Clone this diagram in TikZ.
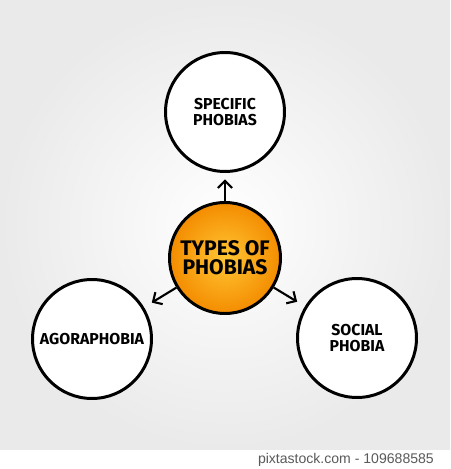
\documentclass[tikz,border=0pt]{standalone}
\usepackage{fontspec}
\setsansfont{Fira Sans}
\newfontfamily\creditfont{Liberation Sans}
\usetikzlibrary{arrows.meta}
\definecolor{phobiaorange}{RGB}{244,140,0}
\definecolor{phobiayellow}{RGB}{255,198,52}
\definecolor{bggrey}{RGB}{234,234,234}
\definecolor{creditgrey}{RGB}{90,90,90}
\tikzstyle{topic} = [circle, draw=black, line width=1.7pt, fill=white, minimum size=2.38cm, align=center, font=\sffamily\bfseries\small]
\tikzstyle{hub} = [circle, draw=black, line width=1.7pt, inner color=phobiayellow, outer color=phobiaorange, minimum size=2.14cm, align=center, font=\sffamily\bfseries\large]
\tikzstyle{arrow} = [line width=1.2pt, -{Straight Barb[length=4pt,width=8pt,line width=1.2pt]}, shorten >=0.18cm]

\begin{document}
\begin{tikzpicture}[x=0.02cm, y=-0.02cm]
      \useasboundingbox (0,0) rectangle (450,469);
      % background
      \shade[inner color=white, outer color=bggrey] (0,0) rectangle (450,450);
      \fill[white] (0,450) rectangle (450,469);
      \node[anchor=east, font=\creditfont\fontsize{8}{9}\selectfont, text=creditgrey] (credit) at (440,460) {pixtastock.com - 109688585};
      % circles
      \node[hub] (types) at (225,258) {TYPES OF\\[-3pt]PHOBIAS};
      \node[topic] (specific) at (225,112) {SPECIFIC\\[-2pt]PHOBIAS};
      \node[topic] (agora) at (92,339) {AGORAPHOBIA};
      \node[topic] (social) at (357,338) {SOCIAL\\[-2pt]PHOBIA};
      % arrows
      \draw[arrow, shorten >=0.13cm] (types)--(specific);
      \draw[arrow] (types)--(agora);
      \draw[arrow] (types)--(social);
\end{tikzpicture}
\end{document}
